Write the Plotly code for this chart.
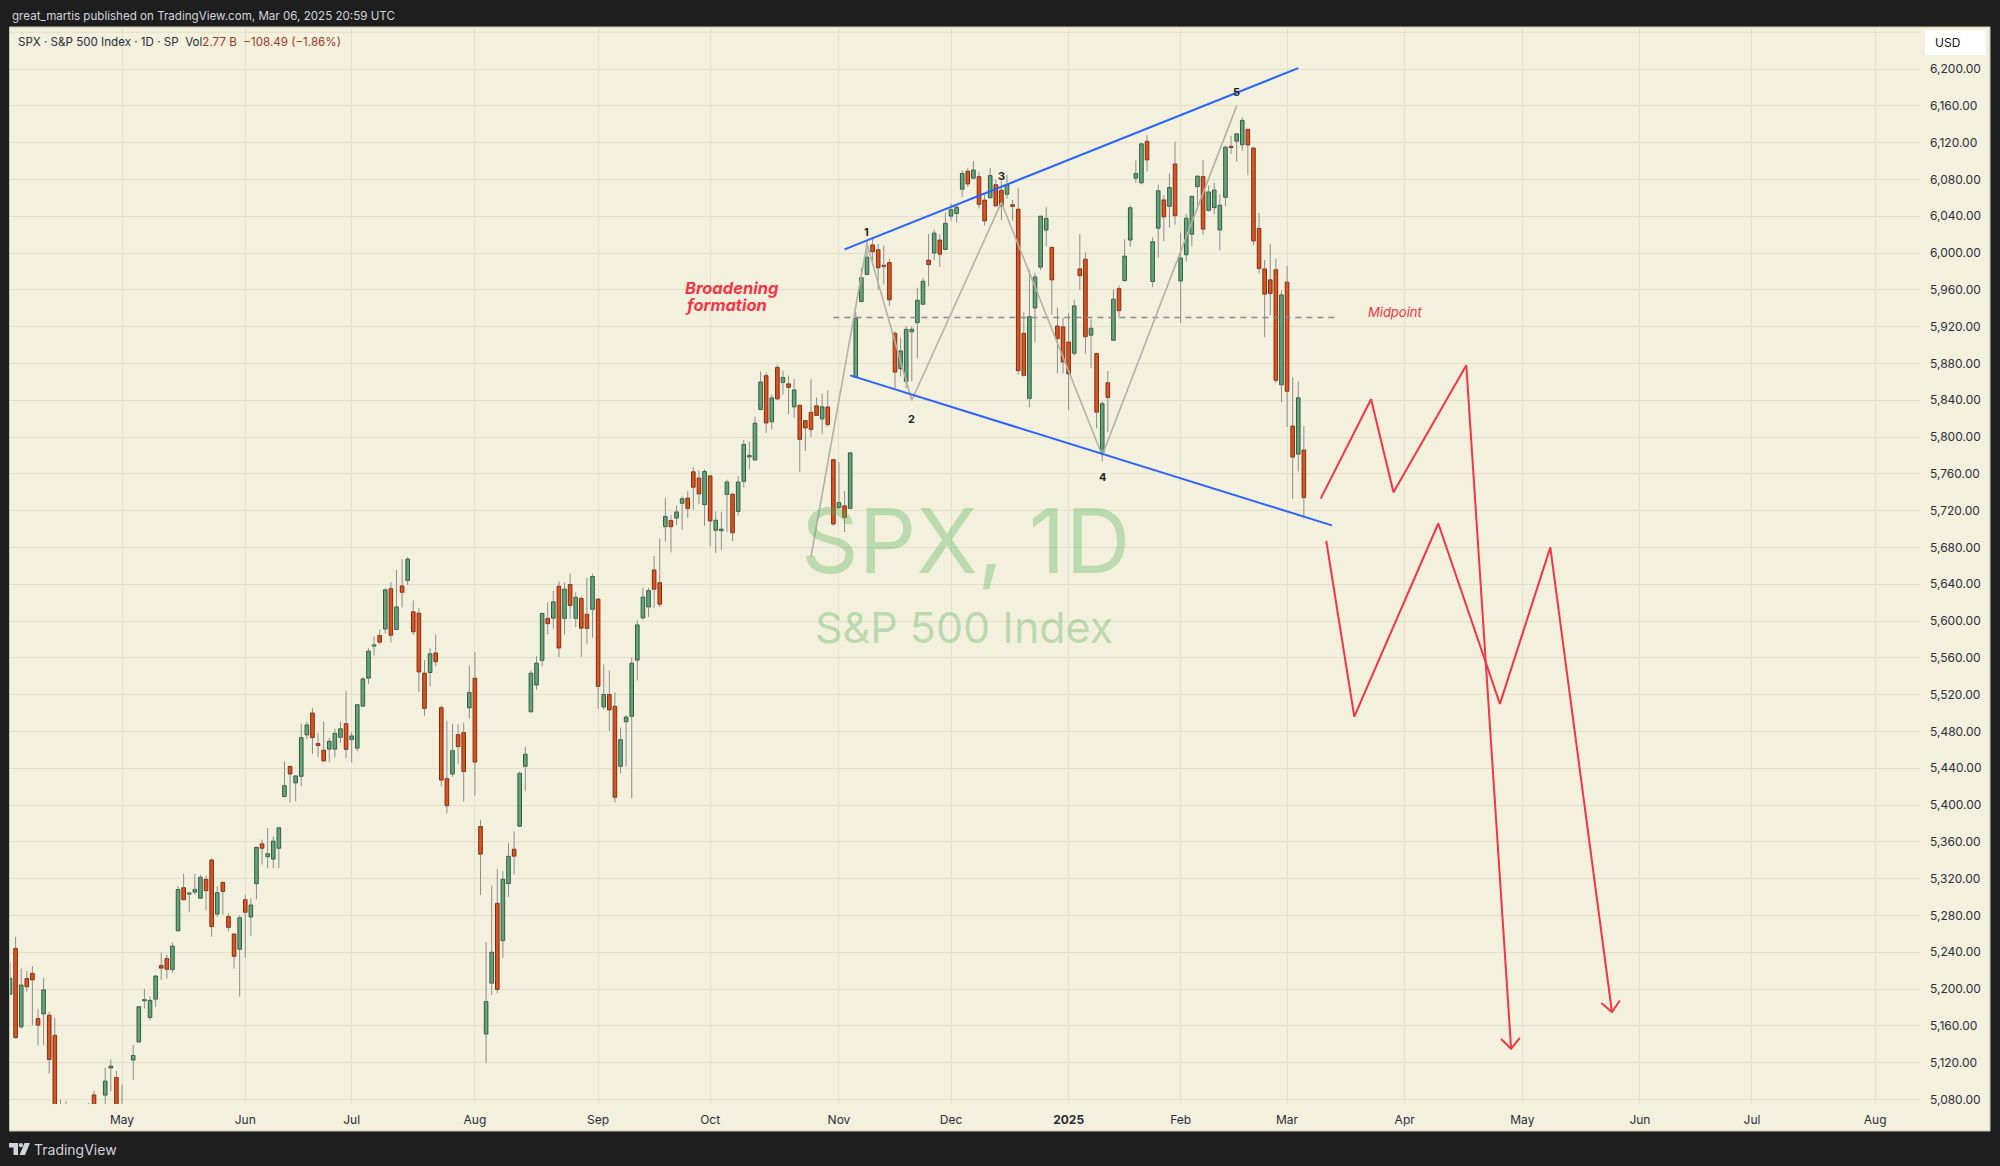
import numpy as np
import pandas as pd
import plotly.graph_objects as go

# ---------------- data ----------------
HIST_START = "2024-04-02"
HIST_END = "2025-03-06"
CAL_END = "2025-08-29"
HOLIDAYS = ["2024-05-27", "2024-06-19", "2024-07-04", "2024-09-02", "2024-11-28", "2024-12-25",
            "2025-01-01", "2025-01-09", "2025-01-20", "2025-02-17", "2025-04-18", "2025-05-26",
            "2025-06-19", "2025-07-04"]

OPEN = [
    # Apr 2024
    5204.29, 5194.37, 5244.05, 5158.95, 5211.37, 5217.03, 5167.88, 5172.95, 5171.51, 5149.67, 5064.59,
    5068.97, 5031.52, 5005.44, 4987.33, 5028.85, 5084.86, 5019.88, 5084.65, 5114.13, 5103.78,
    # May
    5029.03, 5049.32, 5122.78, 5142.42, 5187.20, 5168.98, 5189.03, 5225.49, 5233.08, 5221.10, 5263.26,
    5310.07, 5303.10, 5305.35, 5298.69, 5319.28, 5340.26, 5281.45, 5315.91, 5278.73, 5259.77, 5243.21,
    # Jun
    5297.15, 5278.24, 5314.48, 5357.80, 5343.81, 5341.22, 5353.00, 5409.13, 5441.93, 5424.08, 5431.11,
    5476.15, 5499.99, 5466.77, 5459.58, 5460.73, 5460.71, 5473.59, 5488.48,
    # Jul
    5471.08, 5461.84, 5507.44, 5537.91, 5572.75, 5584.24, 5591.26, 5635.21, 5590.76, 5638.16, 5644.09,
    5610.07, 5608.56, 5543.37, 5544.01, 5565.30, 5505.84, 5428.70, 5433.67, 5476.55, 5478.73, 5505.59,
    # Aug
    5537.84, 5376.63, 5151.14, 5206.42, 5293.13, 5252.57, 5314.57, 5351.97, 5376.98, 5442.04, 5501.30,
    5530.50, 5557.23, 5602.88, 5603.09, 5637.77, 5602.89, 5639.66, 5602.89, 5624.51, 5607.30, 5612.74,
    # Sep
    5623.89, 5506.68, 5520.08, 5507.33, 5442.07, 5490.51, 5496.42, 5557.48, 5603.34, 5615.21, 5655.51,
    5641.68, 5702.63, 5709.27, 5711.90, 5727.94, 5733.65, 5762.22, 5755.36, 5726.52,
    # Oct
    5757.73, 5698.68, 5698.19, 5737.62, 5737.80, 5719.14, 5751.80, 5778.36, 5775.09, 5829.81, 5866.74,
    5816.58, 5875.62, 5859.43, 5857.82, 5832.70, 5834.50, 5817.80, 5826.75, 5833.93, 5819.68, 5832.65,
    5775.34,
    # Nov
    5723.22, 5725.15, 5722.43, 5864.89, 5947.21, 5976.76, 6008.86, 6003.60, 5985.75, 5989.68, 5912.79,
    5874.17, 5860.56, 5914.43, 5924.37, 5944.36, 5992.28, 6000.03, 6014.11, 6003.98,
    # Dec
    6040.11, 6042.97, 6069.39, 6089.03, 6081.38, 6083.01, 6057.59, 6060.07, 6074.29, 6068.17, 6063.79,
    6052.55, 6047.65, 5912.71, 5842.00, 5940.25, 5984.63, 6024.97, 6006.17, 5920.67, 5919.74,
    # Jan 2025
    5903.26, 5891.07, 5982.81, 5993.26, 5910.66, 5890.66, 5782.68, 5859.02, 5905.21, 5961.33, 5969.99,
    6014.12, 6081.39, 6076.32, 6121.43, 5969.04, 6026.97, 6057.70, 6050.75, 6096.79,
    # Feb
    5969.65, 5998.14, 6020.45, 6072.22, 6083.13, 6046.40, 6049.32, 6025.08, 6060.59, 6115.52, 6121.60,
    6117.76, 6134.50, 6114.10, 6026.69, 5982.73, 5970.87, 5981.88, 5856.74,
    # Mar
    5968.33, 5811.98, 5781.38, 5785.87,
]
HIGH = [
    5208.34, 5228.75, 5256.59, 5222.18, 5219.57, 5224.81, 5178.43, 5211.78, 5175.03, 5168.43, 5079.84,
    5077.96, 5056.66, 5019.02, 5038.84, 5076.12, 5089.48, 5057.75, 5114.62, 5123.49, 5110.83,
    5096.12, 5073.21, 5139.12, 5181.00, 5200.23, 5191.95, 5215.30, 5239.66, 5237.26, 5250.37, 5311.76,
    5325.49, 5305.45, 5325.32, 5324.32, 5323.18, 5341.88, 5311.65, 5315.91, 5282.26, 5260.21, 5280.33,
    5302.11, 5298.80, 5354.16, 5362.35, 5375.08, 5365.79, 5375.95, 5447.25, 5441.93, 5432.39, 5488.50,
    5490.38, 5505.53, 5478.31, 5490.66, 5472.88, 5483.14, 5490.81, 5523.64,
    5479.55, 5509.69, 5539.27, 5570.33, 5583.11, 5590.75, 5635.39, 5642.45, 5655.56, 5666.94, 5669.67,
    5622.49, 5614.05, 5557.50, 5570.36, 5585.34, 5508.04, 5491.59, 5488.32, 5487.74, 5489.46, 5551.51,
    5566.16, 5383.89, 5250.89, 5312.34, 5330.64, 5328.03, 5358.68, 5371.20, 5436.50, 5463.22, 5546.23,
    5561.98, 5608.30, 5620.51, 5632.68, 5643.22, 5641.82, 5651.62, 5631.18, 5627.03, 5646.95, 5651.37,
    5623.89, 5552.74, 5546.30, 5522.47, 5484.20, 5497.91, 5560.41, 5600.71, 5636.27, 5636.05, 5670.81,
    5689.75, 5733.57, 5715.14, 5725.36, 5735.32, 5741.03, 5767.37, 5763.78, 5765.14,
    5757.73, 5719.14, 5718.78, 5753.65, 5739.34, 5757.60, 5796.80, 5795.03, 5822.13, 5871.41, 5870.36,
    5846.52, 5878.46, 5872.17, 5866.92, 5863.04, 5834.85, 5817.80, 5862.82, 5842.92, 5847.19, 5850.94,
    5775.34,
    5772.52, 5741.43, 5783.44, 5936.14, 5983.84, 6012.45, 6017.31, 6009.92, 6008.19, 5993.88, 5915.00,
    5908.12, 5920.87, 5920.36, 5962.15, 5972.90, 6020.75, 6025.42, 6020.16, 6044.17,
    6053.58, 6052.07, 6089.84, 6092.63, 6099.97, 6088.51, 6065.40, 6092.59, 6079.68, 6078.58, 6085.19,
    6057.68, 6070.67, 5935.52, 5982.06, 5978.25, 6040.10, 6049.75, 6006.17, 5940.79, 5929.74,
    5935.09, 5949.34, 6021.04, 6000.68, 5927.89, 5890.66, 5838.80, 5871.92, 5960.61, 5964.69, 6014.96,
    6051.51, 6100.81, 6118.73, 6128.18, 6017.17, 6074.54, 6062.83, 6086.64, 6120.91,
    6022.13, 6042.48, 6062.86, 6084.03, 6101.28, 6073.38, 6076.28, 6063.67, 6116.91, 6127.47, 6129.63,
    6147.43, 6134.50, 6114.82, 6043.65, 5992.65, 6009.82, 5993.69, 5959.40,
    5986.09, 5865.08, 5860.59, 5812.08,
]
LOW = [
    5184.05, 5194.37, 5146.06, 5157.21, 5197.35, 5160.78, 5138.70, 5138.77, 5107.94, 5052.47, 5039.83,
    5007.25, 5001.89, 4953.56, 4969.40, 5027.96, 5047.02, 4990.58, 5073.14, 5088.65, 5035.31,
    5013.45, 5011.05, 5101.22, 5142.42, 5178.96, 5165.86, 5180.41, 5209.68, 5211.16, 5217.98, 5263.26,
    5296.19, 5283.59, 5302.40, 5297.87, 5286.01, 5256.93, 5278.39, 5280.89, 5262.70, 5222.10, 5191.68,
    5234.32, 5257.63, 5297.64, 5335.36, 5331.33, 5331.52, 5331.33, 5409.13, 5402.51, 5403.75, 5420.40,
    5471.32, 5455.56, 5452.03, 5447.59, 5446.56, 5451.87, 5467.54, 5451.12,
    5446.53, 5458.43, 5507.42, 5531.63, 5562.51, 5574.57, 5586.44, 5576.53, 5590.44, 5614.75, 5639.02,
    5584.81, 5522.81, 5497.04, 5529.04, 5550.90, 5419.98, 5390.95, 5430.70, 5444.44, 5403.62, 5493.75,
    5410.42, 5302.03, 5119.26, 5193.56, 5195.54, 5233.85, 5300.00, 5324.37, 5376.98, 5415.02, 5501.30,
    5525.17, 5550.74, 5585.50, 5591.57, 5560.95, 5585.16, 5602.34, 5593.48, 5560.95, 5574.57, 5581.79,
    5504.33, 5503.66, 5480.54, 5402.62, 5434.49, 5441.72, 5406.96, 5535.50, 5601.65, 5604.53, 5614.05,
    5615.08, 5686.42, 5674.49, 5704.22, 5698.99, 5712.06, 5721.01, 5727.34, 5703.53,
    5681.28, 5674.00, 5677.04, 5696.72, 5686.85, 5714.56, 5745.02, 5764.76, 5775.09, 5829.81, 5804.48,
    5808.34, 5840.25, 5846.11, 5824.82, 5821.17, 5762.41, 5784.92, 5799.98, 5823.08, 5802.92, 5811.28,
    5703.32,
    5723.22, 5696.51, 5722.10, 5864.89, 5947.21, 5976.76, 5986.69, 5960.08, 5965.91, 5942.28, 5853.01,
    5865.95, 5853.01, 5860.58, 5885.31, 5944.36, 5963.91, 5992.27, 5984.87, 6003.98,
    6035.33, 6033.39, 6061.06, 6071.94, 6079.98, 6048.63, 6029.89, 6060.07, 6051.25, 6035.77, 6059.14,
    6035.19, 5867.79, 5866.07, 5832.30, 5902.57, 5981.44, 6007.37, 5932.95, 5869.16, 5868.86,
    5829.53, 5888.66, 5960.01, 5890.68, 5874.78, 5809.44, 5773.31, 5805.47, 5905.21, 5930.27, 5969.99,
    6006.88, 6076.13, 6074.67, 6088.74, 5962.92, 5994.63, 6012.96, 6027.46, 6030.93,
    5923.93, 5990.87, 6007.06, 6046.83, 6019.96, 6044.84, 6042.34, 6003.00, 6051.03, 6107.62, 6099.51,
    6111.15, 6084.59, 6008.56, 5977.83, 5908.49, 5932.69, 5858.78, 5837.66,
    5810.91, 5732.59, 5762.36, 5711.64,
]
CLOSE = [
    5205.81, 5211.49, 5147.21, 5204.34, 5202.39, 5209.91, 5160.64, 5199.06, 5123.41, 5061.82, 5051.41,
    5022.21, 5011.12, 4967.23, 5010.60, 5070.55, 5071.63, 5048.42, 5099.96, 5116.17, 5035.69,
    5018.39, 5064.20, 5127.79, 5180.74, 5187.70, 5187.67, 5214.08, 5222.68, 5221.42, 5246.68, 5308.15,
    5297.10, 5303.27, 5308.13, 5321.41, 5307.01, 5267.84, 5304.72, 5306.04, 5266.95, 5235.48, 5277.51,
    5283.40, 5291.34, 5354.03, 5352.96, 5346.99, 5360.79, 5375.32, 5421.03, 5433.74, 5431.60, 5473.23,
    5487.03, 5473.17, 5464.62, 5447.87, 5469.30, 5477.90, 5482.87, 5460.48,
    5475.09, 5509.01, 5537.02, 5567.19, 5572.85, 5576.98, 5633.91, 5584.54, 5615.35, 5631.22, 5667.20,
    5588.27, 5544.59, 5505.00, 5564.41, 5555.74, 5427.13, 5399.22, 5459.10, 5463.54, 5436.44, 5522.30,
    5446.68, 5346.56, 5186.33, 5240.03, 5199.50, 5319.31, 5344.16, 5344.39, 5434.43, 5455.21, 5543.22,
    5554.25, 5608.25, 5597.12, 5620.85, 5570.64, 5634.61, 5616.84, 5625.80, 5592.18, 5591.96, 5648.40,
    5528.93, 5520.07, 5503.41, 5408.42, 5471.05, 5495.52, 5554.13, 5595.76, 5626.02, 5633.09, 5634.58,
    5618.26, 5713.64, 5702.55, 5718.57, 5732.93, 5722.26, 5745.37, 5738.17, 5762.48,
    5708.75, 5709.54, 5699.94, 5751.07, 5695.94, 5751.13, 5792.04, 5780.05, 5815.03, 5859.85, 5815.26,
    5842.47, 5841.47, 5864.67, 5853.98, 5851.20, 5797.42, 5809.86, 5808.12, 5823.52, 5832.92, 5813.67,
    5705.45,
    5728.80, 5712.69, 5782.76, 5929.04, 5973.10, 5995.54, 6001.35, 5983.99, 5985.38, 5949.17, 5870.62,
    5893.62, 5916.98, 5917.11, 5948.71, 5969.34, 5987.37, 6021.63, 5998.74, 6032.38,
    6047.15, 6049.88, 6086.49, 6075.11, 6090.27, 6052.85, 6034.91, 6084.19, 6051.25, 6051.09, 6074.08,
    6050.61, 5872.16, 5867.08, 5930.85, 5974.07, 6040.04, 6037.59, 5970.84, 5906.94, 5881.63,
    5868.55, 5942.47, 5975.38, 5909.03, 5918.25, 5827.04, 5836.22, 5842.91, 5949.91, 5937.34, 5996.66,
    6049.24, 6086.37, 6118.71, 6101.24, 6012.28, 6067.70, 6039.31, 6071.17, 6040.53,
    5994.57, 6037.88, 6061.48, 6083.57, 6025.99, 6066.44, 6068.50, 6051.97, 6115.07, 6114.63, 6129.58,
    6144.15, 6117.52, 6013.13, 5983.25, 5955.25, 5956.06, 5861.57, 5954.50,
    5849.72, 5778.15, 5842.63, 5734.14,
]

TICK_MONTHS = ["2024-05", "2024-06", "2024-07", "2024-08", "2024-09", "2024-10", "2024-11", "2024-12",
               "2025-01", "2025-02", "2025-03", "2025-04", "2025-05", "2025-06", "2025-07", "2025-08"]
TICK_LABELS = ["May", "Jun", "Jul", "Aug", "Sep", "Oct", "Nov", "Dec",
               "<b>2025</b>", "Feb", "Mar", "Apr", "May", "Jun", "Jul", "Aug"]
PRICE_TICKS = list(range(5080, 6201, 40))

# drawings (date, price)
UPPER_DATES = ["2024-11-04", "2025-03-05"]
UPPER_PRICES = [6004, 6201]
LOWER_DATES = ["2024-11-05", "2025-03-13"]
LOWER_PRICES = [5867, 5704]
MID_DATES = ["2024-10-31", "2025-03-14"]
MID_PRICES = [5930, 5930]
WAVE_DATES = ["2024-10-25", "2024-11-08", "2024-11-20", "2024-12-13", "2025-01-13", "2025-02-18"]
WAVE_PRICES = [5670, 6010, 5840, 6055, 5780, 6160]
WAVE_LABELS = ["1", "2", "3", "4", "5"]
WAVE_LABEL_DATES = ["2024-11-08", "2024-11-20", "2024-12-13", "2025-01-13", "2025-02-18"]
WAVE_LABEL_PRICES = [6023, 5820, 6084, 5757, 6175]
PATH_A_DATES = ["2025-03-11", "2025-03-24", "2025-03-28", "2025-04-16", "2025-04-29"]
PATH_A_PRICES = [5733, 5841, 5740, 5878, 5135]
PATH_B_DATES = ["2025-03-12", "2025-03-19", "2025-04-09", "2025-04-25", "2025-05-08", "2025-05-23"]
PATH_B_PRICES = [5687, 5496, 5706, 5510, 5680, 5175]

# ---------------- styles ----------------
FONT = "Inter, Roboto, 'Noto Sans', sans-serif"
BEIGE = "#f4f0de"
FRAME = "#1e1e1e"
GRID = "#e4dfcb"
UP_FILL, UP_LINE = "#65a37b", "#2f5b3f"
DN_FILL, DN_LINE = "#d9541f", "#7d2d12"
WICK = "#8d8d8d"
BLUE = "#2962ff"
RED = "#f23645"
GREYLINE = "#b3b1a6"

W, H = 2000, 1166
PL, PR, PT, PB = 10, 1920, 27, 1104


def px(x):
    return (x - PL) / (PR - PL)


def py(y):
    return (PB - y) / (PB - PT)


# ---------------- calendar ----------------
cal = [d.strftime("%Y-%m-%d") for d in pd.bdate_range(HIST_START, CAL_END)]
cal = [d for d in cal if d not in HOLIDAYS]
POS = {d: i for i, d in enumerate(cal)}
hist = [d for d in cal if d <= HIST_END]
assert len(hist) == len(OPEN) == len(HIGH) == len(LOW) == len(CLOSE), (len(hist), len(OPEN))


def xs(dates):
    return [POS[d] for d in dates]


i_may = POS["2024-05-01"]
XR = [i_may - 20.0, i_may + 321.0]
YR = [5075.0, 6245.7]
SX = (PR - PL) / (XR[1] - XR[0])
SY = (PB - PT) / (YR[1] - YR[0])

o = np.array(OPEN)
h = np.array(HIGH)
l = np.array(LOW)
c = np.array(CLOSE)
x = np.array([POS[d] for d in hist])
up = c >= o
top = np.maximum(o, c)
bot = np.minimum(o, c)

fig = go.Figure()

# wicks (outside body only)
wx, wy = [], []
for i in range(len(x)):
    wx += [x[i], x[i], None, x[i], x[i], None]
    wy += [l[i], bot[i], None, top[i], h[i], None]
fig.add_trace(go.Scatter(x=wx, y=wy, mode="lines", line=dict(color=WICK, width=1),
                         hoverinfo="skip", connectgaps=False))

# bodies
fig.add_trace(go.Bar(x=x, base=bot, y=np.maximum(top - bot, 1.3), width=0.64,
                     marker=dict(color=[UP_FILL if u else DN_FILL for u in up],
                                 line=dict(color=[UP_LINE if u else DN_LINE for u in up], width=1)),
                     hoverinfo="skip"))

# midpoint dashed
fig.add_trace(go.Scatter(x=xs(MID_DATES), y=MID_PRICES, mode="lines",
                         line=dict(color="#8a8a86", width=1.5, dash="6px,5px"), hoverinfo="skip"))
# grey wave
fig.add_trace(go.Scatter(x=xs(WAVE_DATES), y=WAVE_PRICES, mode="lines",
                         line=dict(color=GREYLINE, width=1.6), hoverinfo="skip"))
# blue channel
fig.add_trace(go.Scatter(x=xs(UPPER_DATES), y=UPPER_PRICES, mode="lines",
                         line=dict(color=BLUE, width=2), hoverinfo="skip"))
fig.add_trace(go.Scatter(x=xs(LOWER_DATES), y=LOWER_PRICES, mode="lines",
                         line=dict(color=BLUE, width=2), hoverinfo="skip"))


def arrow_arms(xv, yv, L=14, ang=42):
    x1, y1 = xv[-1], yv[-1]
    x0, y0 = xv[-2], yv[-2]
    dx, dy = (x1 - x0) * SX, (y1 - y0) * SY
    n = np.hypot(dx, dy)
    bx, by = -dx / n, -dy / n
    pts = []
    for s in (1, -1):
        a = np.radians(ang * s)
        rx = bx * np.cos(a) - by * np.sin(a)
        ry = bx * np.sin(a) + by * np.cos(a)
        pts.append((x1 + L * rx / SX, y1 + L * ry / SY))
    return [pts[0][0], x1, pts[1][0]], [pts[0][1], y1, pts[1][1]]


for dts, prs in ((PATH_A_DATES, PATH_A_PRICES), (PATH_B_DATES, PATH_B_PRICES)):
    xv = xs(dts)
    fig.add_trace(go.Scatter(x=xv, y=prs, mode="lines", line=dict(color=RED, width=2),
                             hoverinfo="skip"))
    ax, ay = arrow_arms(xv, prs)
    fig.add_trace(go.Scatter(x=ax, y=ay, mode="lines", line=dict(color=RED, width=2),
                             hoverinfo="skip"))

tickvals = [next(i for d, i in POS.items() if d.startswith(m)) for m in TICK_MONTHS]

annotations = [
    dict(text="great_martis published on TradingView.com, Mar 06, 2025 20:59 UTC",
         x=px(10), y=py(16), xref="paper", yref="paper", xanchor="left", yanchor="middle",
         showarrow=False, font=dict(family=FONT, size=11.6, color="#d1d4dc")),
    dict(text="SPX · S&P 500 Index · 1D · SP\u00a0\u00a0Vol<span style='color:#9b3b28'>2.77\u00a0B"
              "\u00a0\u00a0\u2212108.49 (\u22121.86%)</span>",
         x=px(16), y=py(42), xref="paper", yref="paper", xanchor="left", yanchor="middle",
         showarrow=False, font=dict(family=FONT, size=11.6, color="#2a2e39")),
    dict(text="USD", x=px(1933), y=py(42.5), xref="paper", yref="paper", xanchor="left",
         yanchor="middle", showarrow=False, font=dict(family=FONT, size=12, color="#131722")),
    dict(text="SPX, 1D", x=px(965), y=py(540), xref="paper", yref="paper", xanchor="center",
         yanchor="middle", showarrow=False,
         font=dict(family=FONT, size=90, color="rgba(76,175,80,0.34)")),
    dict(text="S&P 500 Index", x=px(964), y=py(627), xref="paper", yref="paper", xanchor="center",
         yanchor="middle", showarrow=False,
         font=dict(family=FONT, size=43, color="rgba(76,175,80,0.34)")),
    dict(text="<b><i>Broadening</i></b>", x=px(683), y=py(288), xref="paper", yref="paper",
         xanchor="left", yanchor="middle", showarrow=False,
         font=dict(family=FONT, size=16.5, color=RED)),
    dict(text="<b><i>formation</i></b>", x=px(683), y=py(305), xref="paper", yref="paper",
         xanchor="left", yanchor="middle", showarrow=False,
         font=dict(family=FONT, size=16.5, color=RED)),
    dict(text="<i>Midpoint</i>", x=px(1395), y=py(312), xref="paper", yref="paper",
         xanchor="center", yanchor="middle", showarrow=False,
         font=dict(family=FONT, size=13, color=RED)),
    dict(text="TradingView", x=px(32), y=py(1149), xref="paper", yref="paper", xanchor="left",
         yanchor="middle", showarrow=False, font=dict(family=FONT, size=14, color="#d1d4dc")),
]
for lab, d, p in zip(WAVE_LABELS, WAVE_LABEL_DATES, WAVE_LABEL_PRICES):
    annotations.append(dict(text="<b>%s</b>" % lab, x=POS[d], y=p, xref="x", yref="y",
                            xanchor="center", yanchor="middle", showarrow=False,
                            font=dict(family=FONT, size=11, color="#1e1e1e")))


def path_poly(pts):
    return "M " + " L ".join("%f,%f" % (px(a), py(b)) for a, b in pts) + " Z"


shapes = [
    dict(type="rect", xref="paper", yref="paper", x0=px(9.5), x1=px(1990), y0=py(1131), y1=py(27),
         fillcolor=BEIGE, line=dict(width=0), layer="below"),
    dict(type="rect", xref="paper", yref="paper", x0=px(9.5), x1=px(1990), y0=py(1131), y1=py(27),
         fillcolor="rgba(0,0,0,0)", line=dict(color="#cbc7b5", width=1), layer="above"),
    dict(type="line", xref="paper", yref="y", x0=0, x1=1, y0=6240, y1=6240,
         line=dict(color=GRID, width=1), layer="below"),
    dict(type="rect", xref="paper", yref="paper", x0=px(1925), x1=px(1986), y0=py(55), y1=py(30),
         fillcolor="#ffffff", line=dict(width=0), layer="above"),
    # TradingView logo
    dict(type="path", xref="paper", yref="paper", layer="above", fillcolor="#d1d4dc", line=dict(width=0),
         path=path_poly([(9, 1143), (18, 1143), (18, 1155), (13.5, 1155), (13.5, 1147.5), (9, 1147.5)])),
    dict(type="circle", xref="paper", yref="paper", layer="above", fillcolor="#d1d4dc", line=dict(width=0),
         x0=px(18.8), x1=px(23.0), y0=py(1147.3), y1=py(1143.1)),
    dict(type="path", xref="paper", yref="paper", layer="above", fillcolor="#d1d4dc", line=dict(width=0),
         path=path_poly([(24.5, 1143), (30, 1143), (25, 1155), (19.5, 1155)])),
]

fig.update_layout(
    width=W, height=H, autosize=False,
    margin=dict(l=PL, r=W - PR, t=PT, b=H - PB, pad=0),
    paper_bgcolor=FRAME, plot_bgcolor=BEIGE,
    showlegend=False, hovermode=False,
    font=dict(family=FONT, size=12, color="#2a2e39"),
    xaxis=dict(range=XR, tickvals=tickvals, ticktext=TICK_LABELS, showgrid=True, gridcolor=GRID,
               gridwidth=1, zeroline=False, showline=False, ticks="", ticklabelstandoff=7,
               tickfont=dict(family=FONT, size=12, color="#2a2e39"), fixedrange=True),
    yaxis=dict(range=YR, side="right", tickvals=PRICE_TICKS,
               ticktext=["{:,.2f}".format(v) for v in PRICE_TICKS], showgrid=True, gridcolor=GRID,
               gridwidth=1, zeroline=False, showline=False, ticks="", ticklabelstandoff=9,
               tickfont=dict(family=FONT, size=12, color="#2a2e39"), fixedrange=True),
    annotations=annotations, shapes=shapes,
)

fig.write_html("out.html", config={"displayModeBar": False},
               post_script="document.body.style.margin='0px';"
                           "document.body.style.overflow='hidden';"
                           "document.body.style.background='#1e1e1e';")
